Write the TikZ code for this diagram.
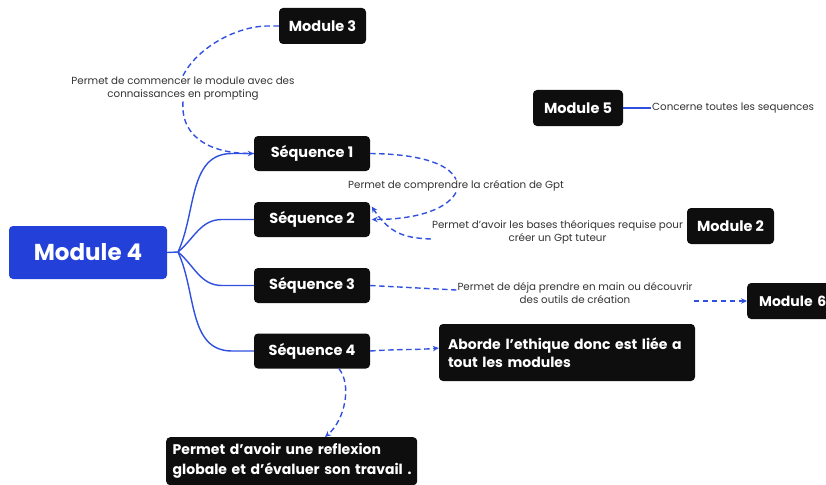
\documentclass[tikz,border=0pt]{standalone}
\usepackage{fontspec}
\setmainfont{Poppins}
\usetikzlibrary{arrows.meta}
\definecolor{mblue}{HTML}{2340D8}
\definecolor{lblue}{HTML}{3050E0}
\definecolor{boxblack}{HTML}{0E0E0E}
\definecolor{labgray}{HTML}{333333}
\tikzset{
  blackbox/.style={fill=boxblack, text=white, rounded corners=4pt, font=\fontsize{14.5}{19}\selectfont\bfseries, inner sep=0pt, align=center},
  seqbox/.style={blackbox, minimum width=116pt, minimum height=35pt},
  lab/.style={text=labgray, font=\fontsize{10.3}{12.8}\selectfont, align=center, inner sep=1pt},
  dashlink/.style={draw=lblue, line width=1.4pt, dash pattern=on 5.5pt off 3.5pt},
  arr/.style={-{Stealth[length=6pt,width=5.5pt]}},
  solidlink/.style={draw=lblue, line width=1.4pt},
}
\begin{document}
\begin{tikzpicture}[x=1pt,y=-1pt]
\useasboundingbox (0,0) rectangle (826,484);
\clip (0,0) rectangle (826,484);

% main node
\node[fill=mblue, text=white, rounded corners=4pt, minimum width=158pt, minimum height=53pt, inner sep=0pt, font=\fontsize{23}{28}\selectfont\bfseries] (m4) at (88,252.5) {Module 4};

% sequences
\node[seqbox] (s1) at (312,153.5) {Séquence 1};
\node[seqbox] (s2) at (312,219.5) {Séquence 2};
\node[seqbox] (s3) at (312,285.5) {Séquence 3};
\node[seqbox] (s4) at (312,351) {Séquence 4};

% modules
\node[blackbox, minimum width=87pt, minimum height=36pt] (m3) at (322.5,26) {Module 3};
\node[blackbox, minimum width=90pt, minimum height=36pt] (m5) at (578,108) {Module 5};
\node[blackbox, minimum width=87pt, minimum height=36pt] (m2) at (730.5,226) {Module 2};
\node[blackbox, minimum width=90pt, minimum height=36pt, anchor=west, text width=82pt, align=left, font=\fontsize{14}{19}\selectfont\bfseries] (m6) at (747,301) {\hspace*{8pt}Module 6};

% text boxes
\node[blackbox, minimum width=256pt, minimum height=57pt, align=left, text width=238pt, font=\fontsize{14}{18.5}\selectfont\bfseries] (ab) at (567,352.5) {Aborde l’ethique donc est liée a\\tout les modules};
\node[blackbox, minimum width=251pt, minimum height=48pt, align=left, text width=244pt, anchor=north west, font=\fontsize{14}{20}\selectfont\bfseries] (rf) at (166,437) {\hspace*{3pt}Permet d’avoir une reflexion\\\hspace*{3pt}globale et d’évaluer son travail .};

% labels
\node[lab] (l3) at (183,88.5) {Permet de commencer le module avec des\\connaissances en prompting};
\node[lab] (l1) at (456,186) {Permet de comprendre la création de Gpt};
\node[lab] (l2) at (557.5,232) {Permet d’avoir les bases théoriques requise pour\\créer un Gpt tuteur};
\node[lab] (l6) at (575,293) {Permet de déja prendre en main ou découvrir\\des outils de création};
\node[lab, anchor=west] (l5) at (651,108) {Concerne toutes les sequences};

% fork from Module 4
\coordinate (fk) at (178,252);
\draw[solidlink] (m4.east) -- (fk);
\draw[solidlink] (fk) to[out=65,in=180] (232,153.5) -- (s1.west);
\draw[solidlink] (fk) to[out=40,in=180] (222,219.5) -- (s2.west);
\draw[solidlink] (fk) to[out=-40,in=180] (222,285.5) -- (s3.west);
\draw[solidlink] (fk) to[out=-65,in=180] (232,351) -- (s4.west);

% Module 5 line
\draw[solidlink] (m5.east) -- (l5.west);

% Module 3 -> Sequence 1
\draw[dashlink] (m3.west) -- (266,26) .. controls (235,27) and (197,48) .. (l3.north);
\draw[dashlink, arr] (l3.south) .. controls (180,140) and (215,153.5) .. (s1.west);

% Sequence 1 -> Sequence 2
\draw[dashlink] (s1.east) .. controls (415,154) and (448,162) .. (l1.north);
\draw[dashlink, arr] (l1.south) .. controls (445,212) and (410,219.5) .. ([xshift=1.5pt]s2.east);

% Module 2 -> Sequence 2
\draw[dashlink, arr] (l2.west|-0,239) coordinate (l2a) .. controls (405,238) and (390,234) .. ([xshift=1.5pt,yshift=13pt]s2.east);

% Sequence 3 -> Module 6
\draw[dashlink] (s3.east) -- (l6.west|-0,290);
\draw[dashlink, arr] (l6.east|-0,301) -- (m6.west);

% Sequence 4 -> boxes
\draw[dashlink, arr] (s4.east) .. controls (398,349) and (418,350) .. ([yshift=4.5pt]ab.west);
\draw[dashlink, arr] ([xshift=27pt]s4.south) .. controls (352,385) and (345,420) .. (325,437);
\end{tikzpicture}
\end{document}
